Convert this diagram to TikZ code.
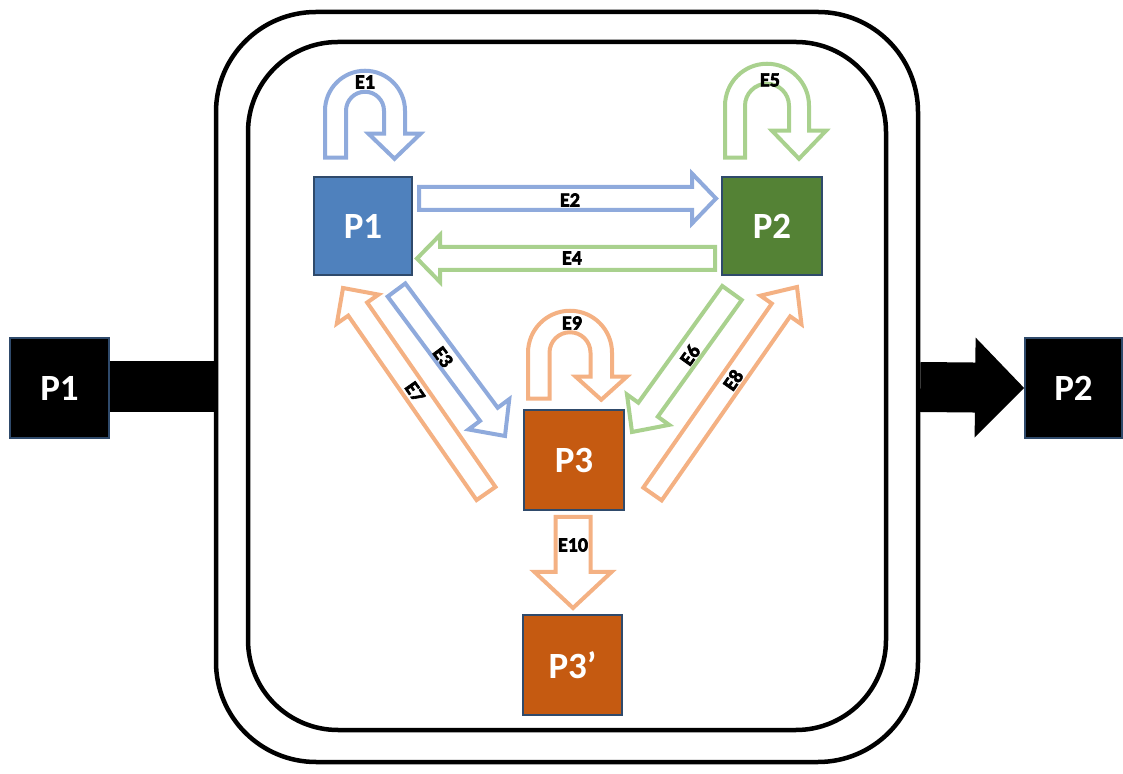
\documentclass[tikz,border=0pt]{standalone}
\usepackage{fontspec}
\setmainfont{Carlito}
\newfontfamily\lblfont{Carlito}[BoldFeatures={FakeBold=3}]
\usetikzlibrary{calc}
\definecolor{pblue}{HTML}{4F81BD}
\definecolor{pgreen}{HTML}{548235}
\definecolor{porange}{HTML}{C55A11}
\definecolor{bordc}{HTML}{2F4A6B}
\definecolor{ablue}{HTML}{8FAADC}
\definecolor{agreen}{HTML}{A9D18E}
\definecolor{aorange}{HTML}{F4B183}
\tikzset{
  pbox/.style={draw=bordc,line width=2.5pt,minimum width=98pt,minimum height=98pt,inner sep=0pt,text=white,font=\bfseries\fontsize{37}{37}\selectfont},
  frame/.style={draw=black,line width=4.5pt,fill=none,inner sep=0pt},
  arr/.style={line width=4pt,fill=white,line join=miter},
  lbl/.style={inner sep=0pt,text=black,font=\lblfont\bfseries\fontsize{20}{20}\selectfont},
}
\makeatletter
\newcommand\blockarrow[6]{%
  \pgfmathanglebetweenpoints{\pgfpointanchor{#2}{center}}{\pgfpointanchor{#3}{center}}%
  \edef\ba@ang{\pgfmathresult}%
  \pgfpointdiff{\pgfpointanchor{#2}{center}}{\pgfpointanchor{#3}{center}}%
  \edef\ba@dx{\the\pgf@x}\edef\ba@dy{\the\pgf@y}%
  \pgfmathveclen{\ba@dx}{\ba@dy}%
  \edef\ba@len{\pgfmathresult}%
  \begin{scope}[shift={(#2)},rotate=\ba@ang]
    \path[#1] (0,-#4) -- ({\ba@len-#6},-#4) -- ({\ba@len-#6},-#5) -- (\ba@len,0)
      -- ({\ba@len-#6},#5) -- ({\ba@len-#6},#4) -- (0,#4) -- cycle;
  \end{scope}}
\makeatother
% #1 colour, #2 anchor, #3 cx, #4 cy, #5 R, #6 r, #7 leg bottom, #8 head base, #9 head half width
\newcommand\uturn[9]{%
  \begin{scope}[shift={(#2)}]
    \draw[arr,draw=#1] ({#3-#5},#7) -- ({#3-#5},#4) arc[start angle=180,end angle=0,radius=#5]
      -- ({#3+#5},#8) -- ({#3+(#5+#6)/2+#9},#8) -- ({#3+(#5+#6)/2},{#7-1})
      -- ({#3+(#5+#6)/2-#9},#8) -- ({#3+#6},#8) -- ({#3+#6},#4)
      arc[start angle=0,end angle=180,radius=#6] -- ({#3-#6},#7) -- cycle;
  \end{scope}}
\begin{document}
\begin{tikzpicture}[x=1pt,y=1pt]
\useasboundingbox (0,0) rectangle (1123,773);
% frames
\node[frame,rounded corners=100pt,minimum width=702pt,minimum height=750pt] (outer) at (567,386) {};
\node[frame,rounded corners=90pt,minimum width=638pt,minimum height=688pt] (inner) at (567,387) {};
% outside boxes
\node[pbox,fill=black,draw=bordc,line width=1.8pt,minimum width=99pt,minimum height=100pt] (lp1) at (59.5,385) {P1};
\node[pbox,fill=black,draw=bordc,line width=1.8pt,minimum width=97pt,minimum height=100pt] (rp2) at (1073.5,385) {P2};
\draw[line width=51pt] ([yshift=1pt]lp1.east) -- ([yshift=1pt]lp1.east -| outer.west);
\coordinate (ras) at (outer.east);
\coordinate (rae) at (rp2.west);
\blockarrow{fill=black}{ras}{rae}{25}{50}{49}
% inner boxes
\node[pbox,fill=pblue] (p1) at (363,547) {P1};
\node[pbox,fill=pgreen,minimum width=100pt] (p2) at (772,547) {P2};
\node[pbox,fill=porange,minimum width=100pt,minimum height=100pt] (p3) at (574,313) {P3};
\node[pbox,fill=porange,minimum width=99pt,minimum height=100pt] (p3b) at (572.5,108) {P3’};
% straight arrows
\coordinate (e2s) at (419,574.5);  \coordinate (e2e) at (716,574.5);
\coordinate (e4s) at (715,514.5);  \coordinate (e4e) at (417,514.5);
\coordinate (e3s) at (396.5,483);  \coordinate (e3e) at (505,337);
\coordinate (e7s) at (486,279.5);  \coordinate (e7e) at (343,485);
\coordinate (e6s) at (732,480);    \coordinate (e6e) at (632,341);
\coordinate (e8s) at (652.5,279);  \coordinate (e8e) at (797,486);
\coordinate (e10s) at (573,256);   \coordinate (e10e) at (573,165);
\blockarrow{arr,draw=ablue}{e2s}{e2e}{11.5}{25}{24}
\blockarrow{arr,draw=agreen}{e4s}{e4e}{11.5}{23.5}{23}
\blockarrow{arr,draw=ablue}{e3s}{e3e}{11}{25.4}{27}
\blockarrow{arr,draw=aorange}{e7s}{e7e}{11.5}{25.4}{25.7}
\blockarrow{arr,draw=agreen}{e6s}{e6e}{12}{26}{27.5}
\blockarrow{arr,draw=aorange}{e8s}{e8e}{11.2}{25}{28}
\blockarrow{arr,draw=aorange}{e10s}{e10e}{17.5}{38.5}{36}
% loops
\uturn{ablue}{p1.north}{2}{65}{40}{19}{18}{42}{26}
\uturn{agreen}{p2.north}{-5}{70}{42}{22}{18}{45}{27}
\uturn{aorange}{p3.north}{-4}{56}{42}{20.5}{10}{32}{25.5}
% labels
\node[lbl] (l1) at (365,691) {E1};
\node[lbl] (l5) at (770,693) {E5};
\node[lbl] (l9) at (572,450) {E9};
\node[lbl] (l2) at (570,573) {E2};
\node[lbl] (l4) at (572,515) {E4};
\node[lbl,rotate=-53.4] (l3) at (443,416) {E3};
\node[lbl,rotate=-55.2] (l7) at (415,381) {E7};
\node[lbl,rotate=54.3] (l6) at (690,418) {E6};
\node[lbl,rotate=55.1] (l8) at (733,393) {E8};
\node[lbl] (l10) at (573,228) {E10};
\end{tikzpicture}
\end{document}
